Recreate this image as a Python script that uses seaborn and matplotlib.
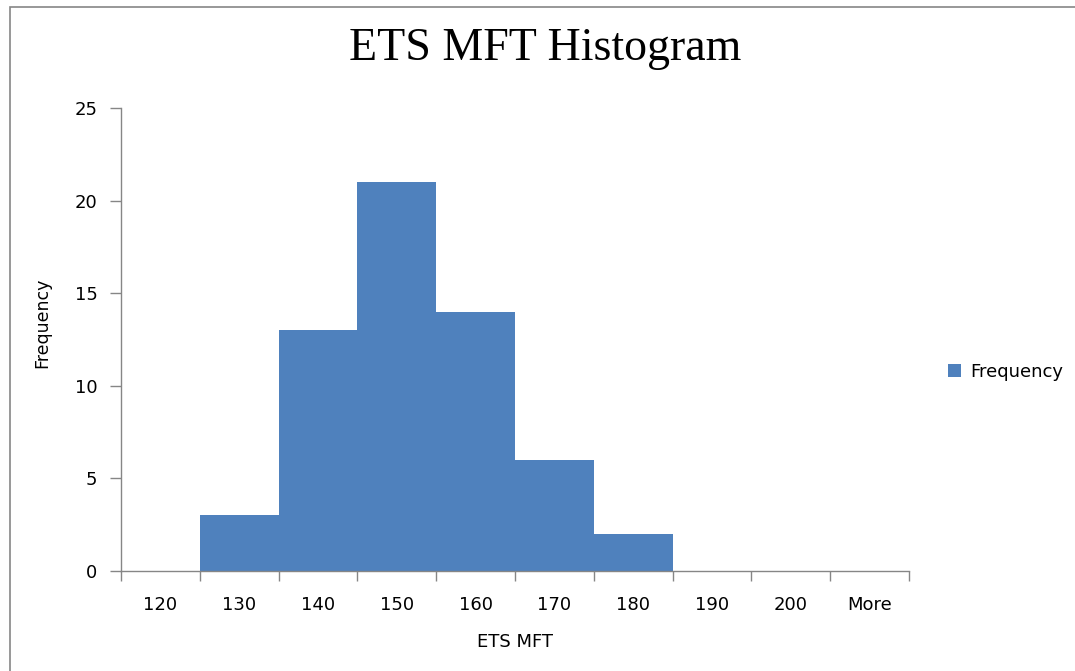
import seaborn as sns
import matplotlib.pyplot as plt
import pandas as pd
from matplotlib.patches import Rectangle

# bins and counts
bins = ['120', '130', '140', '150', '160', '170', '180', '190', '200', 'More']
frequency = [0, 3, 13, 21, 14, 6, 2, 0, 0, 0]
y_ticks = [0, 5, 10, 15, 20, 25]

df = pd.DataFrame({'bin': bins, 'Frequency': frequency})

sns.set_style('white')
plt.rcParams['font.family'] = ['DejaVu Sans']
plt.rcParams['text.color'] = 'black'
plt.rcParams['axes.labelcolor'] = 'black'

fig = plt.figure(figsize=(10.75, 6.71), dpi=100)
ax = fig.add_axes([121 / 1075, 100 / 671, 788 / 1075, 463 / 671])

sns.barplot(data=df, x='bin', y='Frequency', color='#4F81BD', width=1.0,
            saturation=1, linewidth=0, label='Frequency', ax=ax)

ax.set_xlim(-0.5, len(bins) - 0.5)
ax.set_ylim(0, 25)
ax.set_yticks(y_ticks)

# Excel-style: labels centred, tick marks on the bin edges
ax.set_xticks(range(len(bins)))
ax.set_xticklabels(bins)
ax.set_xticks([i - 0.5 for i in range(len(bins) + 1)], minor=True)
ax.tick_params(axis='x', which='major', length=0, pad=18, labelsize=13, colors='black')
ax.tick_params(axis='x', which='minor', bottom=True, length=7, width=1,
               color='#868686', direction='out')
ax.tick_params(axis='y', length=8, width=1, color='#868686', pad=9, labelsize=13,
               labelcolor='black', direction='out', left=True)

for side in ['top', 'right']:
    ax.spines[side].set_visible(False)
for side in ['left', 'bottom']:
    ax.spines[side].set_color('#868686')
    ax.spines[side].set_linewidth(1)

ax.set_xlabel('ETS MFT', fontsize=13, color='black')
ax.set_ylabel('Frequency', fontsize=12.5, color='black')
ax.xaxis.set_label_coords(0.5, -0.153)
ax.xaxis.label.set_va('center')
ax.yaxis.set_label_coords(-0.1, 0.536)
ax.yaxis.label.set_va('center')

fig.text(545 / 1075, 1 - 60 / 671, 'ETS MFT Histogram', family='Liberation Serif',
         fontsize=33, ha='center', va='baseline', color='black')

leg = ax.legend(loc='center left', bbox_to_anchor=(1.0495, 0.43), frameon=False,
                borderpad=0, borderaxespad=0, fontsize=13, handlelength=0.7,
                handleheight=0.7, handletextpad=0.55)
for t in leg.get_texts():
    t.set_color('black')

# thin chart-area border
fig.patches.append(Rectangle((10 / 1075, -0.05), 1.1, 1 - 7 / 671 + 0.05,
                             transform=fig.transFigure, fill=False,
                             edgecolor='#868686', linewidth=1.2))

fig.savefig('out.png', dpi=100)
